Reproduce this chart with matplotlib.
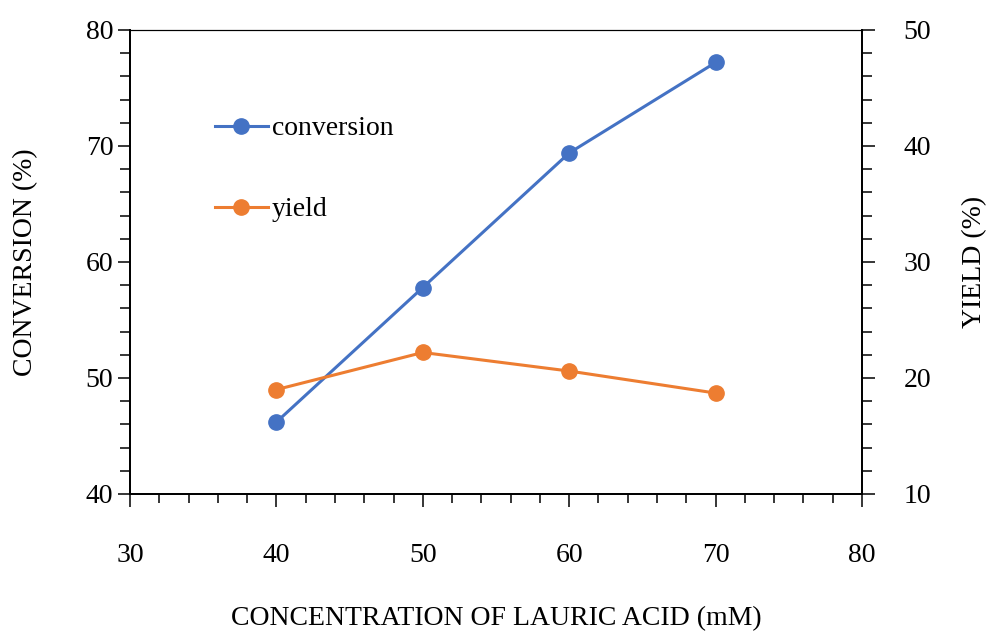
import numpy as np
import matplotlib.pyplot as plt
from matplotlib.ticker import MultipleLocator

plt.rcParams['font.family'] = ['Liberation Serif', 'DejaVu Serif']
plt.rcParams['font.size'] = 20

concentration = [40, 50, 60, 70]
conversion = [46.2, 57.8, 69.4, 77.2]
yield_pct = [19.0, 22.2, 20.6, 18.7]

blue = "#4472C4"
orange = "#ED7D31"

fig = plt.figure(figsize=(9.86, 6.32), dpi=100)
ax = fig.add_axes([130 / 986, 1 - 494 / 632, 732 / 986, 464 / 632])
ax2 = ax.twinx()

l1, = ax.plot(concentration, conversion, color=blue, lw=2.2, marker="o",
              markersize=11, label="conversion")
l2, = ax2.plot(concentration, yield_pct, color=orange, lw=2.2, marker="o",
               markersize=11, label="yield")

ax.set_xlim(30, 80)
ax.set_ylim(40, 80)
ax2.set_ylim(10, 50)

ax.xaxis.set_major_locator(MultipleLocator(10))
ax.xaxis.set_minor_locator(MultipleLocator(2))
ax.yaxis.set_major_locator(MultipleLocator(10))
ax.yaxis.set_minor_locator(MultipleLocator(2))
ax2.yaxis.set_major_locator(MultipleLocator(10))
ax2.yaxis.set_minor_locator(MultipleLocator(2))

ax.tick_params(axis="x", which="major", direction="out", length=9, width=1.1,
               pad=26)
ax.tick_params(axis="x", which="minor", direction="out", length=6.5, width=1.1)
ax.tick_params(axis="y", which="major", direction="out", length=9, width=1.1,
               pad=3)
ax.tick_params(axis="y", which="minor", direction="out", length=7, width=1.1)
ax2.tick_params(axis="y", which="major", direction="out", length=9, width=1.1,
                pad=21)
ax2.tick_params(axis="y", which="minor", direction="out", length=7, width=1.1)

for a in (ax, ax2):
    for s in ("left", "right", "bottom"):
        a.spines[s].set_linewidth(1.3)
    a.spines["top"].set_linewidth(0.8)

ax.set_xlabel("CONCENTRATION OF LAURIC ACID (mM)", labelpad=28)
ax.set_ylabel("CONVERSION (%)", labelpad=34)
ax2.set_ylabel("YIELD (%)", labelpad=22)

ax2.legend([l1, l2], ["conversion", "yield"], frameon=False,
           loc="upper left", bbox_to_anchor=(215 / 986, 1 - 116 / 632),
           bbox_transform=fig.transFigure, borderpad=0, borderaxespad=0,
           handlelength=1.9, handletextpad=0.15, labelspacing=2.0)

fig.savefig("out.png", dpi=100)
